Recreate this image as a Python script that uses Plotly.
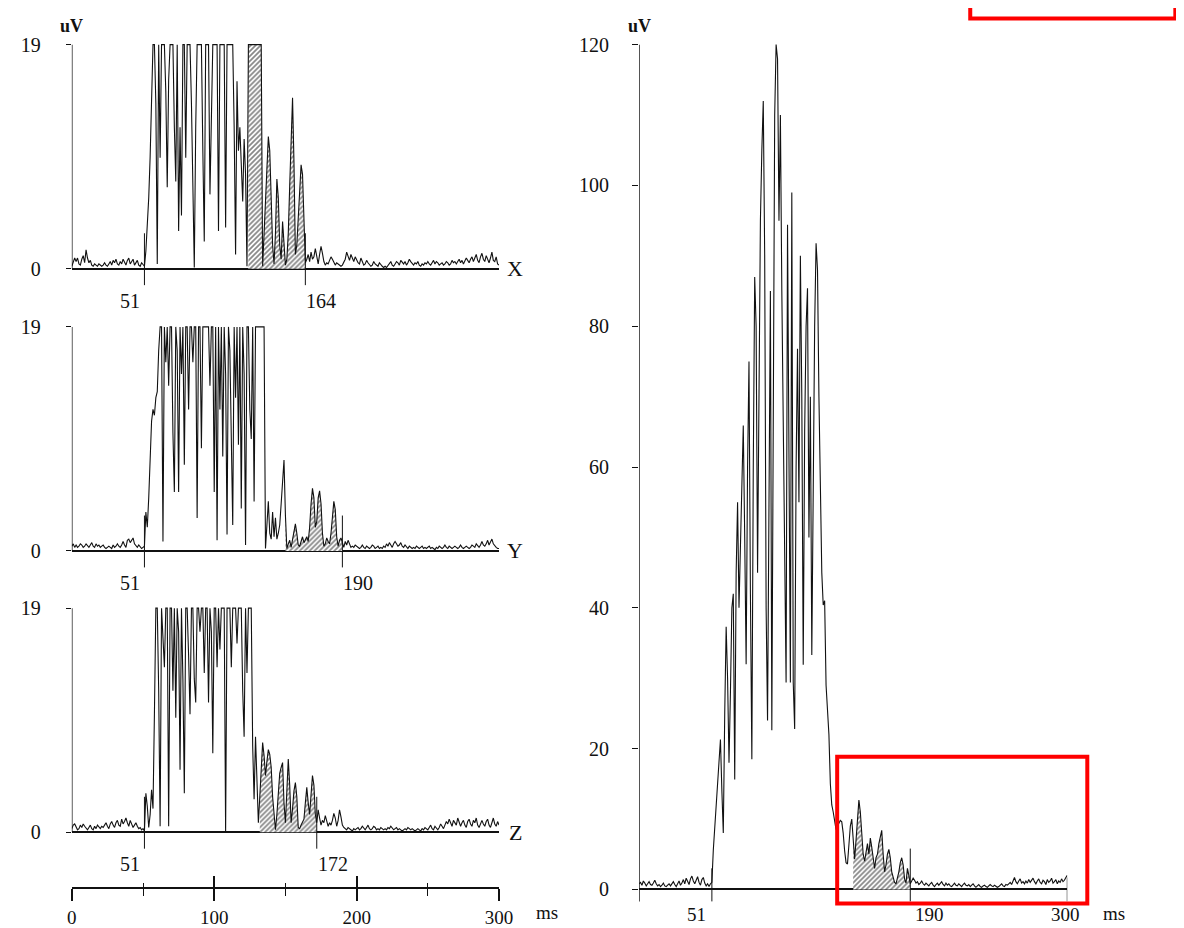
import plotly.graph_objects as go

# ---------------- data (uV, sampled every 1 ms from 0 to 300 ms) ----------------
TIME_MS = list(range(0, 301))

LEAD_NAMES = ["X", "Y", "Z"]
LEAD_ONSET = [51, 51, 51]
LEAD_OFFSET = [164, 190, 172]
LAS_WINDOW_MS = 40
LEAD_CLIP_UV = 19

X_LEAD = [
    0.2, 0.5, 0.9, 0.6, 0.9, 0.4, 0.3, 0.8, 1.1, 0.5,
    1.6, 0.9, 0.5, 0.7, 0.3, 0.2, 0.4, 0.3, 0.2, 0.4,
    0.3, 0.2, 0.3, 0.5, 0.3, 0.2, 0.4, 0.6, 0.3, 0.7,
    0.5, 0.8, 0.4, 0.3, 0.6, 0.4, 0.8, 0.5, 0.3, 0.7,
    0.9, 0.4, 0.6, 0.8, 0.3, 0.5, 0.7, 0.3, 0.2, 0.5,
    0.3, 0.2, 1.5, 3.5, 6.0, 9.5, 14.0, 19, 19, 14,
    0.4, 19, 9.4, 19, 19, 19, 15, 6.9, 16, 19,
    19, 19, 12, 7.4, 19, 3.2, 12, 4.5, 19, 19,
    9.4, 19, 19, 19, 14, 5, 0.1, 12, 19, 19,
    19, 19, 10, 2.3, 19, 19, 19, 6.3, 14, 19,
    19, 19, 19, 3.2, 19, 19, 19, 19, 3.5, 19,
    19, 19, 19, 19, 12, 1.2, 15.9, 10, 12, 9,
    5.7, 11, 8, 0.2, 19, 19, 19, 19, 19, 19,
    19, 19, 19, 19, 0.2, 3, 6, 9, 11.2, 10,
    6, 2, 0.4, 3, 7.6, 6, 2, 0.8, 4.0, 2.5,
    0.3, 0.8, 3, 7, 11, 14.5, 9, 1.2, 2, 4,
    6, 8.8, 8, 4, 0.5, 0.8, 1.2, 0.6, 1.4, 0.8,
    1.0, 1.7, 0.9, 0.4, 1.2, 1.9, 1.3, 0.6, 0.3, 0.5,
    0.4, 0.7, 1.0, 0.8, 0.6, 0.3, 0.5, 0.4, 0.3, 0.2,
    0.3, 0.5, 0.8, 1.4, 1.1, 0.7, 1.2, 0.8, 0.6, 1.0,
    0.7, 0.5, 0.4, 0.9, 0.6, 0.3, 0.4, 0.7, 0.5, 0.3,
    0.2, 0.3, 0.6, 0.4, 0.3, 0.2, 0.5, 0.3, 0.2, 0.1,
    0.2, 0.1, 0.3, 0.4, 0.6, 0.3, 0.2, 0.4, 0.6, 0.5,
    0.3, 0.7, 0.5, 0.4, 0.6, 0.3, 0.5, 0.8, 0.6, 0.4,
    0.3, 0.5, 0.4, 0.6, 0.3, 0.2, 0.4, 0.3, 0.5, 0.4,
    0.6, 0.4, 0.3, 0.5, 0.7, 0.4, 0.6, 0.5, 0.3, 0.4,
    0.5, 0.3, 0.4, 0.6, 0.5, 0.3, 0.4, 0.7, 0.5, 0.6,
    0.4, 0.6, 0.8, 0.5, 0.7, 0.4, 0.6, 0.9, 0.7, 0.5,
    0.8, 1.0, 0.6, 0.9, 1.2, 0.7, 0.5, 1.0, 1.3, 0.8,
    0.6, 1.1, 0.8, 0.5, 0.9, 1.4, 0.7, 0.6, 1.0, 0.4,
    0.3,
]

Y_LEAD = [
    0.4, 0.6, 0.3, 0.5, 0.3, 0.4, 0.6, 0.5, 0.3, 0.4,
    0.6, 0.4, 0.3, 0.5, 0.7, 0.4, 0.3, 0.6, 0.4, 0.5,
    0.3, 0.4, 0.5, 0.3, 0.2, 0.3, 0.4, 0.3, 0.2, 0.5,
    0.3, 0.4, 0.6, 0.4, 0.3, 0.5, 0.8, 0.5, 0.3, 0.9,
    1.0, 0.7, 0.9, 1.1, 0.6, 0.4, 0.3, 0.5, 0.3, 0.2,
    0.3, 0.4, 3.3, 2.0, 4.5, 8.0, 11.0, 12.0, 11.5, 13.0,
    13.5, 17, 19, 19, 0.8, 19, 16, 19, 14, 19,
    19, 10, 5, 19, 17, 5, 19, 15, 19, 7.3,
    19, 19, 12, 19, 19, 16, 19, 19, 2.8, 19,
    19, 8.7, 19, 19, 19, 19, 19, 14, 19, 19,
    5, 19, 0.9, 19, 12, 19, 8, 19, 15, 1.4,
    19, 17, 11, 2.2, 19, 13, 19, 9, 19, 3.6,
    19, 15, 0.5, 19, 19, 12, 9.5, 19, 4.2, 19,
    19, 19, 19, 19, 19, 19, 0.2, 2, 4.2, 1.5,
    1.0, 3.3, 1.2, 2.8, 1.0, 1.5, 2.2, 4, 6.5, 7.7,
    3, 0.2, 0.6, 0.9, 0.3, 1.0, 1.8, 2.3, 1.5, 0.5,
    0.4, 0.9, 1.2, 0.7, 1.0, 1.2, 0.8, 2.0, 4.0, 5.3,
    4.5, 2.0, 2.5, 4.5, 5.1, 4.0, 1.5, 0.4, 0.6, 1.1,
    0.8, 0.6, 1.5, 3.0, 4.2, 3.5, 1.2, 0.4, 0.9, 1.1,
    0.6, 0.3, 0.8, 0.5, 0.9, 0.6, 0.3, 0.4, 0.3, 0.5,
    0.4, 0.3, 0.2, 0.3, 0.5, 0.3, 0.2, 0.4, 0.3, 0.2,
    0.3, 0.5, 0.4, 0.2, 0.3, 0.4, 0.2, 0.3, 0.2, 0.4,
    0.3, 0.6, 0.4, 0.7, 0.5, 0.3, 0.6, 0.8, 0.6, 0.4,
    0.5, 0.7, 0.4, 0.3, 0.5, 0.3, 0.2, 0.4, 0.3, 0.2,
    0.3, 0.2, 0.4, 0.3, 0.2, 0.3, 0.4, 0.2, 0.3, 0.2,
    0.3, 0.4, 0.2, 0.3, 0.2, 0.1, 0.3, 0.2, 0.4, 0.3,
    0.2, 0.3, 0.5, 0.3, 0.2, 0.4, 0.3, 0.2, 0.3, 0.4,
    0.3, 0.2, 0.3, 0.5, 0.3, 0.2, 0.3, 0.4, 0.3, 0.2,
    0.3, 0.5, 0.4, 0.3, 0.6, 0.4, 0.3, 0.5, 0.8, 0.5,
    0.4, 0.6, 0.9, 0.5, 0.7, 1.0, 0.6, 0.4, 0.3, 0.2,
    0.2,
]

Z_LEAD = [
    0.3, 0.6, 0.7, 0.5, 0.2, 0.3, 0.6, 0.4, 0.7, 0.5,
    0.3, 0.2, 0.4, 0.6, 0.3, 0.2, 0.5, 0.3, 0.6, 0.4,
    0.3, 0.5, 0.4, 0.6, 0.8, 0.5, 0.3, 0.7, 0.9, 0.6,
    0.4, 0.8, 1.0, 0.6, 0.5, 1.1, 0.7, 0.9, 1.2, 0.8,
    0.5, 1.0, 0.7, 0.4, 0.6, 0.8, 0.5, 0.3, 0.4, 0.2,
    0.3, 0.1, 3.3, 2.2, 0.4, 1.5, 3.6, 2.0, 10, 19,
    19, 12, 0.5, 19, 16.5, 14, 19, 19, 0.5, 19,
    19, 12, 19, 9.7, 19, 17, 5.3, 19, 13, 3.3,
    19, 19, 15, 10, 19, 19, 13, 11, 19, 19,
    17, 19, 19, 13.5, 19, 19, 11, 19, 17, 6.7,
    19, 19, 14, 19, 15.5, 19, 19, 19, 0, 19,
    19, 19, 14, 19, 19, 19, 16, 19, 19, 19,
    12, 8.1, 19, 13.5, 19, 19, 19, 7.3, 2.8, 8.1,
    5, 0.8, 3, 5.5, 7.6, 6.5, 4.8, 6, 7.0, 6.6,
    5.5, 3, 1.2, 0.2, 1.5, 3.5, 5.0, 5.5, 5.9, 2.5,
    0.8, 3.5, 6.2, 4, 0.8, 2, 3.5, 4.2, 3, 0.4,
    0.3, 0.6, 0.9, 1.1, 2.5, 3.8, 2.5, 1.5, 3.2, 4.8,
    4.0, 1.5, 0.8, 1.9, 1.2, 0.6, 1.0, 0.8, 1.4, 0.9,
    0.5, 0.8, 0.6, 1.0, 1.6, 1.2, 0.5, 1.0, 1.9, 1.3,
    0.6, 0.4, 0.3, 0.2, 0.4, 0.3, 0.2, 0.1, 0.3, 0.2,
    0.3, 0.4, 0.2, 0.3, 0.5, 0.3, 0.2, 0.4, 0.6, 0.3,
    0.2, 0.3, 0.5, 0.4, 0.2, 0.3, 0.2, 0.4, 0.3, 0.2,
    0.3, 0.2, 0.4, 0.3, 0.5, 0.3, 0.2, 0.3, 0.4, 0.2,
    0.3, 0.2, 0.1, 0.2, 0.3, 0.2, 0.4, 0.3, 0.2, 0.3,
    0.2, 0.1, 0.2, 0.3, 0.2, 0.1, 0.3, 0.2, 0.4, 0.3,
    0.2, 0.4, 0.6, 0.3, 0.2, 0.5, 0.3, 0.2, 0.4, 0.7,
    0.5, 0.3, 0.6, 0.9, 0.7, 1.1, 0.8, 0.5, 1.0, 0.8,
    0.6, 1.2, 0.9, 0.5, 0.8, 1.0, 0.6, 0.4, 0.9, 1.1,
    0.7, 0.5, 1.0, 0.8, 1.2, 0.6, 0.4, 0.8, 1.0, 0.7,
    0.5, 0.9, 1.1, 0.6, 0.4, 0.8, 1.2, 0.7, 0.5, 0.9,
    0.6,
]

VM_ONSET = 51
VM_OFFSET = 190
VM_END = 300
VM_TICKS = [0, 20, 40, 60, 80, 100, 120]
VECTOR_MAG = [
    0.8, 1.0, 0.6, 1.2, 0.9, 0.5, 0.8, 1.1, 0.7, 0.6,
    0.9, 1.3, 0.8, 0.5, 0.7, 0.4, 0.6, 0.9, 0.5, 0.4,
    0.6, 0.8, 0.5, 0.9, 1.1, 0.7, 0.4, 0.8, 1.2, 0.6,
    0.9, 1.4, 0.8, 1.6, 1.0, 0.7, 1.5, 1.9, 1.2, 0.8,
    1.3, 1.8, 1.0, 0.6, 1.4, 1.7, 0.9, 0.5, 0.8, 0.4,
    0.8, 1.0, 5.6, 9, 12.8, 15, 19, 21.3, 14, 8,
    25, 37.3, 30, 18, 28, 40, 42, 15.6, 45, 55,
    40, 48, 60, 65.9, 50, 32, 60, 75, 42, 18.5,
    60, 87, 80, 45, 70, 95, 105, 112, 90, 40,
    24, 60, 85, 22.6, 70, 110, 120, 118, 95, 110,
    85, 67, 40, 29.4, 94.4, 60, 29.4, 99, 29.4, 22.8,
    60, 76.8, 55, 90, 70, 31.9, 65, 80, 85.4, 50,
    70, 33.3, 60, 80, 91.8, 88, 70, 55, 45, 40.4,
    41, 29, 25, 22, 15, 12, 11, 9.5, 8.5, 9,
    9.5, 9.8, 9.6, 8, 5.5, 3.8, 3.6, 6, 9, 10,
    7, 4.3, 7, 10, 12.7, 11, 7, 5, 4, 5.5,
    6.5, 5, 7.3, 6, 4, 3, 4.5, 5, 6.5, 7.5,
    8.4, 5, 2.5, 3.5, 5, 5.7, 4.5, 2.5, 1.5, 1.0,
    0.8, 1.5, 2.5, 3.8, 4.5, 3.5, 1.5, 0.9, 3, 2,
    0.8, 1.2, 1.6, 1.3, 0.9, 1.1, 0.7, 0.9, 1.2, 0.8,
    0.6, 0.9, 0.7, 0.5, 0.8, 1.0, 0.6, 0.4, 0.7, 0.9,
    0.6, 0.8, 1.1, 0.7, 0.5, 0.9, 0.6, 0.8, 0.5, 0.4,
    0.7, 0.9, 0.6, 0.5, 0.8, 0.6, 0.4, 0.7, 0.9, 0.6,
    0.5, 0.7, 0.4, 0.6, 0.8, 0.5, 0.3, 0.5, 0.7, 0.4,
    0.3, 0.5, 0.6, 0.4, 0.3, 0.5, 0.7, 0.5, 0.4, 0.6,
    0.5, 0.3, 0.4, 0.6, 0.8, 0.5, 0.4, 0.7, 0.6, 0.8,
    1.0, 0.7, 1.3, 1.7, 1.1, 0.8, 1.2, 1.5, 0.9, 1.1,
    0.8, 1.2, 0.9, 1.4, 1.0, 1.3, 1.6, 1.1, 0.8, 1.2,
    1.5, 1.0, 0.8, 1.3, 1.1, 0.7, 1.4, 1.0, 1.2, 1.6,
    0.9, 1.1, 1.4, 0.8, 1.2, 1.0, 1.5, 1.1, 1.3, 1.7,
    2.0,
]

TIME_TICKS = [0, 100, 200, 300]
TIME_MINOR_TICKS = [50, 150, 250]

# ---------------- layout helpers (pixel geometry) ----------------
W, H = 1184, 928
FONT = "Liberation Serif"
INK = "#111111"
# the rendered page maps figure pixels p to screen pixels about S*p + O;
# positions below are given in screen pixels and converted back.
SX, OX = 0.9835, 12.2
SY, OY = 0.988, 15.5


def fx(px):
    return ((px - OX) / SX) / W


def fy(py):
    return 1 - ((py - OY) / SY) / H


LEFT_X = (71, 498)
RIGHT_X = (638, 1066)
LEFT_PANEL_PX = [(268, 45), (549, 326), (829, 606)]  # (baseline px, 19uV px)
RIGHT_PANEL_PX = (886, 45)  # (baseline px, 120uV px)
LEFT_RANGE = (-1.7, 19.3)
RIGHT_RANGE = (-1.8, 121)
BOTTOM_AXIS_PX = 884

fig = go.Figure()
layout = dict(
    width=W, height=H, autosize=False,
    margin=dict(l=0, r=0, t=0, b=0),
    paper_bgcolor="white", plot_bgcolor="white",
    showlegend=False,
    font=dict(family=FONT, size=20, color=INK),
)
shapes = []
annotations = []

hatch = dict(shape="/", size=3.5, solidity=0.5, fgcolor="#111111", bgcolor="white")
label_font = dict(family=FONT, size=20, color=INK)
bottom_font = dict(family=FONT, size=19, color=INK)
unit_font = dict(family=FONT, size=18, color=INK, weight="bold")

lead_series = [X_LEAD, Y_LEAD, Z_LEAD]
for i, (name, vals, on, off, (base_px, top_px)) in enumerate(
        zip(LEAD_NAMES, lead_series, LEAD_ONSET, LEAD_OFFSET, LEFT_PANEL_PX)):
    n = i + 1
    xa = "x" if n == 1 else f"x{n}"
    ya = "y" if n == 1 else f"y{n}"
    s = (base_px - top_px) / LEAD_CLIP_UV
    bottom_px = base_px - LEFT_RANGE[0] * s
    top_edge_px = top_px - (LEFT_RANGE[1] - LEAD_CLIP_UV) * s

    las_start = off - LAS_WINDOW_MS
    fig.add_trace(go.Scatter(
        x=TIME_MS[las_start:off + 1], y=vals[las_start:off + 1],
        mode="none", fill="tozeroy", fillcolor="white", fillpattern=hatch,
        xaxis=xa, yaxis=ya, hoverinfo="skip"))
    fig.add_trace(go.Scatter(
        x=TIME_MS, y=vals, mode="lines", line=dict(color=INK, width=1.1),
        xaxis=xa, yaxis=ya, hoverinfo="skip"))

    layout["xaxis" if n == 1 else f"xaxis{n}"] = dict(
        domain=[fx(LEFT_X[0]), fx(LEFT_X[1])], range=[0, 300], anchor=ya,
        visible=False, fixedrange=True)
    layout["yaxis" if n == 1 else f"yaxis{n}"] = dict(
        domain=[fy(bottom_px), fy(top_edge_px)], range=list(LEFT_RANGE), anchor=xa,
        tickmode="array", tickvals=[0, LEAD_CLIP_UV],
        ticktext=["0", str(LEAD_CLIP_UV)], ticks="outside", ticklen=5,
        tickcolor=INK, tickwidth=1.2, ticklabelstandoff=21,
        tickfont=label_font,
        showgrid=False, showline=False, zeroline=True,
        zerolinecolor=INK, zerolinewidth=1.6, fixedrange=True)

    # vertical axis line
    shapes.append(dict(type="line", xref=xa, yref=ya, x0=0, x1=0, y0=0,
                       y1=LEAD_CLIP_UV, line=dict(color=INK, width=1.4)))
    # onset / offset markers
    for m in (on, off):
        shapes.append(dict(type="line", xref=xa, yref=ya, x0=m, x1=m, y0=-1.4,
                           y1=3.0, line=dict(color=INK, width=1)))
    annotations += [
        dict(xref=xa, yref=ya, x=on, y=0, yshift=-32, xshift=-14,
             xanchor="center", yanchor="middle",
             text=str(on), showarrow=False, font=label_font),
        dict(xref=xa, yref=ya, x=off, y=0, yshift=-32, xshift=16,
             xanchor="center", yanchor="middle",
             text=str(off), showarrow=False, font=label_font),
        dict(xref=xa, yref=ya, x=300, y=0, xshift=16, xanchor="center",
             yanchor="middle", text=name, showarrow=False,
             font=dict(family=FONT, size=22, color=INK)),
    ]
    if n == 1:
        annotations.append(dict(xref=xa, yref=ya, x=0, y=LEAD_CLIP_UV, yshift=19,
                                xanchor="center", yanchor="middle",
                                text="uV", showarrow=False, font=unit_font))

# ---------------- right panel: vector magnitude ----------------
base_px, top_px = RIGHT_PANEL_PX
s = (base_px - top_px) / VM_TICKS[-1]
r_bottom = base_px - RIGHT_RANGE[0] * s
r_top = top_px - (RIGHT_RANGE[1] - VM_TICKS[-1]) * s
las_start = VM_OFFSET - LAS_WINDOW_MS
fig.add_trace(go.Scatter(
    x=TIME_MS[las_start:VM_OFFSET + 1], y=VECTOR_MAG[las_start:VM_OFFSET + 1],
    mode="none", fill="tozeroy", fillcolor="white", fillpattern=hatch,
    xaxis="x4", yaxis="y4", hoverinfo="skip"))
fig.add_trace(go.Scatter(
    x=TIME_MS, y=VECTOR_MAG, mode="lines", line=dict(color=INK, width=1.1),
    xaxis="x4", yaxis="y4", hoverinfo="skip"))
layout["xaxis4"] = dict(domain=[fx(RIGHT_X[0]), fx(RIGHT_X[1])], range=[0, 300],
                        anchor="y4", visible=False, fixedrange=True)
layout["yaxis4"] = dict(
    domain=[fy(r_bottom), fy(r_top)], range=list(RIGHT_RANGE), anchor="x4",
    tickmode="array", tickvals=VM_TICKS, ticks="outside", ticklen=6,
    tickcolor=INK, tickwidth=1.2, ticklabelstandoff=19,
    tickfont=label_font,
    showgrid=False, showline=False, zeroline=True,
    zerolinecolor=INK, zerolinewidth=1.6, fixedrange=True)
shapes.append(dict(type="line", xref="x4", yref="y4", x0=0, x1=0, y0=-1.7,
                   y1=VM_TICKS[-1], line=dict(color=INK, width=1.4)))
for m, top in ((VM_ONSET, 3.0), (VM_OFFSET, 5.8), (VM_END, 1.7)):
    shapes.append(dict(type="line", xref="x4", yref="y4", x0=m, x1=m, y0=-1.7,
                       y1=top, line=dict(color=INK, width=1)))
annotations += [
    dict(xref="x4", yref="y4", x=0, y=VM_TICKS[-1], yshift=19, text="uV",
         xanchor="center", yanchor="middle", showarrow=False, font=unit_font),
    dict(xref="x4", yref="y4", x=VM_ONSET, y=0, yshift=-25, xshift=-15,
         xanchor="center", yanchor="middle", text=str(VM_ONSET),
         showarrow=False, font=bottom_font),
    dict(xref="x4", yref="y4", x=VM_OFFSET, y=0, yshift=-25, xshift=19,
         xanchor="center", yanchor="middle", text=str(VM_OFFSET),
         showarrow=False, font=bottom_font),
    dict(xref="x4", yref="y4", x=VM_END, y=0, yshift=-25, xshift=-2,
         xanchor="center", yanchor="middle", text=str(VM_END),
         showarrow=False, font=bottom_font),
    dict(xref="paper", yref="paper", x=fx(1113), y=fy(910), text="ms",
         xanchor="center", yanchor="middle", showarrow=False, font=bottom_font),
]

# ---------------- bottom time scale for left column ----------------
fig.add_trace(go.Scatter(x=[], y=[], xaxis="x5", yaxis="y5", hoverinfo="skip"))
fig.add_trace(go.Scatter(x=[], y=[], xaxis="x6", yaxis="y5", hoverinfo="skip"))
layout["yaxis5"] = dict(domain=[fy(BOTTOM_AXIS_PX), fy(BOTTOM_AXIS_PX) + 0.002],
                        range=[0, 1], anchor="x5", visible=False, fixedrange=True)
layout["xaxis5"] = dict(
    domain=[fx(LEFT_X[0]), fx(LEFT_X[1])], range=[0, 300], anchor="y5",
    showline=True, linecolor=INK, linewidth=1.6, showgrid=False, zeroline=False,
    tickmode="array", tickvals=TIME_TICKS, ticks="outside", ticklen=12,
    tickcolor=INK, tickwidth=1.6, ticklabelstandoff=0,
    tickfont=bottom_font,
    minor=dict(tickmode="array", tickvals=TIME_MINOR_TICKS, ticks="outside",
               ticklen=7, tickcolor=INK, tickwidth=1.2, showgrid=False),
    fixedrange=True)
layout["xaxis6"] = dict(
    domain=[fx(LEFT_X[0]), fx(LEFT_X[1])], range=[0, 300], anchor="y5",
    overlaying="x5", side="bottom", showline=False, showgrid=False,
    zeroline=False, showticklabels=False, tickmode="array", tickvals=TIME_TICKS,
    ticks="inside", ticklen=11, tickcolor=INK, tickwidth=1.6,
    minor=dict(tickmode="array", tickvals=TIME_MINOR_TICKS, ticks="inside",
               ticklen=4, tickcolor=INK, tickwidth=1.2, showgrid=False),
    fixedrange=True)
annotations.append(dict(xref="paper", yref="paper", x=fx(546), y=fy(909),
                        xanchor="center", yanchor="middle",
                        text="ms", showarrow=False, font=bottom_font))

# ---------------- decorations: red highlight boxes ----------------
shapes.append(dict(type="rect", xref="paper", yref="paper", x0=fx(836),
                   x1=fx(1086), y0=fy(900), y1=fy(754),
                   line=dict(color="#ff0000", width=4)))
shapes.append(dict(type="rect", xref="paper", yref="paper", x0=fx(969),
                   x1=fx(1174), y0=fy(19), y1=fy(-14),
                   line=dict(color="#ff0000", width=4)))

layout["shapes"] = shapes
layout["annotations"] = annotations
fig.update_layout(**layout)

fig.write_html("out.html")
